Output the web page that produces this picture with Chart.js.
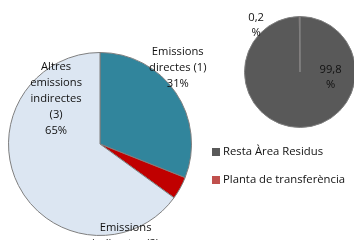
<!DOCTYPE html>
<html>
<head>
<meta charset="utf-8">
<script src="https://cdn.jsdelivr.net/npm/chart.js@4.4.1/dist/chart.umd.min.js"></script>
<style>
    html, body { margin: 0; padding: 0; background: #fff; overflow: hidden; }
    #wrap { position: relative; width: 354px; height: 240px; }
    #bigChart { position: absolute; left: 0; top: 0; }
    #smallChart { position: absolute; left: 200px; top: 0; }
    .legend { position: absolute; left: 212px; font: 11.3px "Open Sans", sans-serif; color: #111; white-space: nowrap; }
    .legend div { position: absolute; left: 0; height: 14px; line-height: 14px; }
    .legend span.box { display: inline-block; width: 8px; height: 8px; margin-right: 3px; vertical-align: -1px; }
</style>
</head>
<body>
<div id="wrap">
    <canvas id="bigChart" width="354" height="240"></canvas>
    <canvas id="smallChart" width="160" height="140"></canvas>
    <div class="legend" id="legend"></div>
</div>
<script>
// Big pie: emissions breakdown
const emissionCategories = [['Emissions', 'directes (1)'], ['Emissions', 'indirectes (2)'], ['Altres', 'emissions', 'indirectes', '(3)']];
const emissionValues = [31, 4, 65];
const emissionLabels = ['31%', '4%', '65%'];
const emissionColors = ['#31859C', '#C00000', '#DCE6F2'];

// Small pie: share of the transfer plant
const areaCategories = ['Resta Àrea Residus', 'Planta de transferència'];
const areaValues = [99.8, 0.2];
const areaLabels = [['99,8', '%'], ['0,2', '%']];
const areaColors = ['#595959', '#C0504D'];

// Draws slice labels at a position given relative to the pie centre (in radii)
const sliceLabels = {
    id: 'sliceLabels',
    afterDatasetsDraw: function(chart, args, opts) {
        const ctx = chart.ctx;
        const meta = chart.getDatasetMeta(0);
        ctx.save();
        ctx.font = opts.font;
        ctx.fillStyle = '#111';
        ctx.textAlign = 'center';
        ctx.textBaseline = 'middle';
        meta.data.forEach(function(arc, i) {
            const lines = opts.lines[i];
            const r = arc.outerRadius;
            const cx = arc.x + opts.pos[i][0] * r;
            const cy = arc.y + opts.pos[i][1] * r;
            const top = cy - (lines.length - 1) * opts.lineHeight / 2;
            lines.forEach(function(t, j) {
                ctx.fillText(t, cx, top + j * opts.lineHeight);
            });
        });
        ctx.restore();
    }
};

const bigChart = new Chart(document.getElementById('bigChart'), {
    type: 'pie',
    data: {
        labels: emissionCategories.map(function(c) { return c.join(' '); }),
        datasets: [{
            data: emissionValues,
            backgroundColor: emissionColors,
            borderColor: '#7F7F7F',
            borderWidth: 1
        }]
    },
    options: {
        responsive: false,
        animation: false,
        layout: { padding: { left: 8, right: 162, top: 52, bottom: 4 } },
        plugins: {
            legend: { display: false },
            tooltip: { enabled: false },
            sliceLabels: {
                font: '11.2px "Open Sans", sans-serif',
                lineHeight: 16,
                lines: emissionCategories.map(function(c, i) { return c.concat([emissionLabels[i]]); }),
                pos: [[0.85, -0.83], [0.28, 1.09], [-0.48, -0.49]]
            }
        }
    },
    plugins: [sliceLabels]
});

const smallChart = new Chart(document.getElementById('smallChart'), {
    type: 'pie',
    data: {
        labels: areaCategories,
        datasets: [{
            data: areaValues,
            backgroundColor: areaColors,
            borderColor: '#7F7F7F',
            borderWidth: 1
        }]
    },
    options: {
        responsive: false,
        animation: false,
        layout: { padding: { left: 44, right: 4, top: 16, bottom: 12 } },
        plugins: {
            legend: { display: false },
            tooltip: { enabled: false },
            sliceLabels: {
                font: '11.2px "Open Sans", sans-serif',
                lineHeight: 15,
                lines: areaLabels,
                pos: [[0.55, 0.09], [-0.79, -0.84]]
            }
        }
    },
    plugins: [sliceLabels]
});

// Legend for the small pie
const legendEl = document.getElementById('legend');
areaCategories.forEach(function(name, i) {
    const row = document.createElement('div');
    row.style.top = (144 + i * 28) + 'px';
    row.innerHTML = '<span class="box" style="background:' + areaColors[i] + '"></span>' + name;
    legendEl.appendChild(row);
});
</script>
</body>
</html>
